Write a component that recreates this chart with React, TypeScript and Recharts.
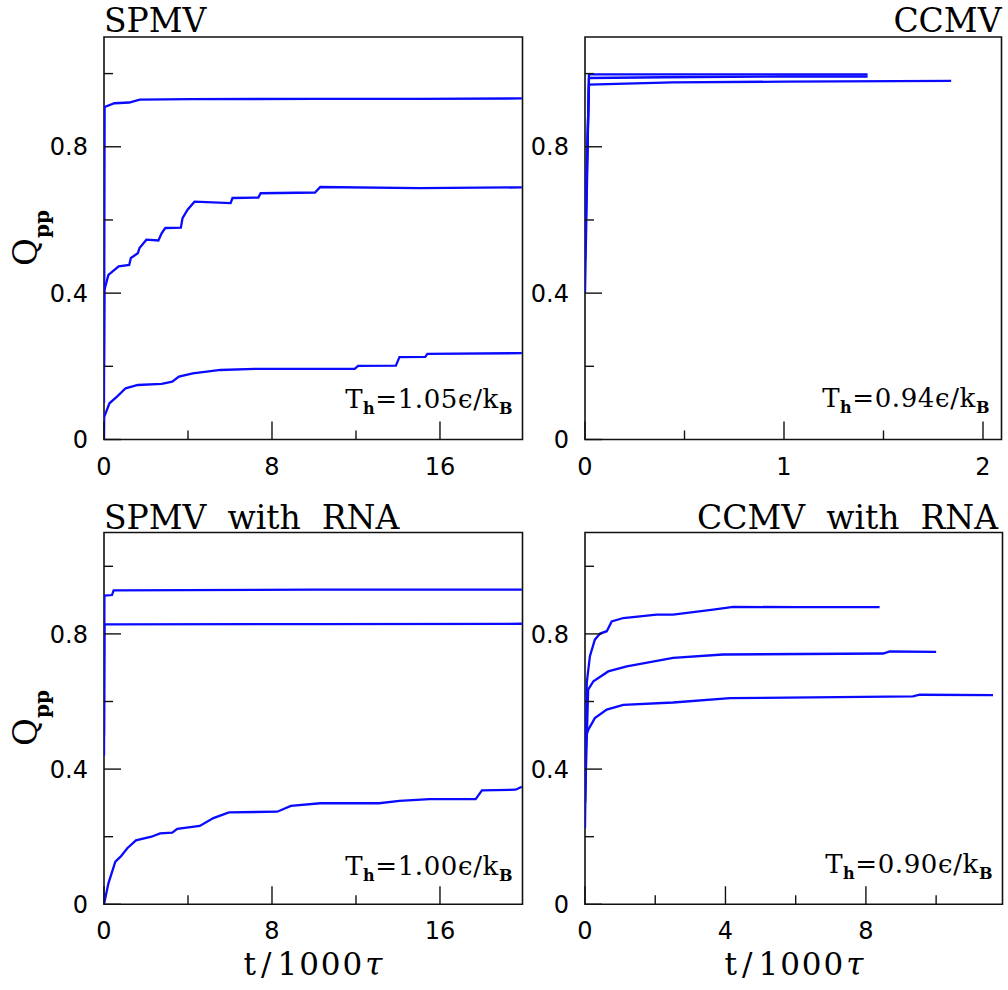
import React from 'react';
import { LineChart, Line, XAxis, YAxis, ReferenceArea } from 'recharts';

// ---------- DATA ----------
// Panel 1: SPMV (t in units of 1000 tau, Qpp)
const spmvTopT = [0, 0.03, 0.5, 1.2, 1.7, 4.1, 10, 15, 19.9];
const spmvTopV = [0.1, 0.909, 0.919, 0.921, 0.929, 0.93, 0.931, 0.931, 0.932];
const spmvMidT = [0, 0.02, 0.21, 0.7, 1.2, 1.28, 1.61, 1.69, 2.02, 2.59, 2.75, 2.92, 3.66, 3.74, 3.98, 4.31, 6.03, 6.12, 7.35, 7.46, 10.05, 10.3, 15, 19.9];
const spmvMidV = [0.2, 0.409, 0.45, 0.473, 0.477, 0.496, 0.509, 0.523, 0.546, 0.544, 0.564, 0.578, 0.579, 0.605, 0.628, 0.65, 0.646, 0.66, 0.661, 0.673, 0.675, 0.69, 0.687, 0.689];
const spmvLowT = [0, 0.01, 0.26, 0.62, 1.03, 1.61, 2.75, 3.25, 3.57, 4.23, 5.54, 7.18, 11.94, 12.1, 13.9, 14.07, 15.3, 15.4, 19.9];
const spmvLowV = [0, 0.062, 0.099, 0.117, 0.14, 0.149, 0.152, 0.158, 0.172, 0.181, 0.19, 0.193, 0.193, 0.201, 0.202, 0.225, 0.226, 0.234, 0.236];

// Panel 2: CCMV
const ccmvAT = [0, 0.02, 0.5, 1.0, 1.42];
const ccmvAV = [0.4, 0.998, 0.998, 0.998, 0.998];
const ccmvBT = [0, 0.02, 0.4, 1.0, 1.42];
const ccmvBV = [0.49, 0.988, 0.99, 0.992, 0.992];
const ccmvCT = [0, 0.02, 0.44, 1.0, 1.84];
const ccmvCV = [0.57, 0.97, 0.976, 0.978, 0.98];

// Panel 3: SPMV with RNA
const srnaTopT = [0, 0.02, 0.38, 0.46, 10, 19.9];
const srnaTopV = [0.44, 0.913, 0.915, 0.929, 0.931, 0.931];
const srnaMidT = [0, 0.02, 10, 19.9];
const srnaMidV = [0.5, 0.828, 0.829, 0.83];
const srnaLowT = [0, 0.21, 0.54, 0.79, 1.11, 1.52, 2.26, 2.67, 3.25, 3.49, 4.56, 5.21, 5.95, 8.25, 8.9, 10.3, 13.1, 14.07, 15.5, 17.7, 18.0, 19.6, 19.9];
const srnaLowV = [0, 0.062, 0.126, 0.141, 0.166, 0.189, 0.2, 0.21, 0.212, 0.223, 0.232, 0.255, 0.272, 0.274, 0.291, 0.299, 0.299, 0.306, 0.311, 0.311, 0.337, 0.339, 0.348];

// Panel 4: CCMV with RNA
const crnaTopT = [0, 0.05, 0.14, 0.28, 0.43, 0.62, 0.76, 1.09, 2.04, 2.51, 3.65, 4.22, 6, 8.39];
const crnaTopV = [0.3, 0.655, 0.734, 0.783, 0.801, 0.808, 0.837, 0.847, 0.857, 0.857, 0.872, 0.88, 0.879, 0.879];
const crnaMidT = [0, 0.09, 0.24, 0.66, 1.19, 2.51, 3.93, 8.49, 8.68, 10.0];
const crnaMidV = [0.3, 0.635, 0.66, 0.689, 0.704, 0.729, 0.739, 0.742, 0.748, 0.747];
const crnaLowT = [0, 0.03, 0.09, 0.28, 0.62, 1.09, 2.51, 4.13, 9.34, 9.53, 11.62];
const crnaLowV = [0.225, 0.497, 0.516, 0.551, 0.576, 0.59, 0.597, 0.61, 0.615, 0.62, 0.619];

// Ticks
const yTicks = [0, 0.2, 0.4, 0.6, 0.8, 1.0];
const yMajor = [0, 0.4, 0.8];
const yLabels = ['0', '0.4', '0.8'];
const xTicksLong = [0, 4, 8, 12, 16];
const xMajorLong = [0, 8, 16];
const xLabelsLong = ['0', '8', '16'];
const xTicksCcmv = [0, 0.5, 1, 1.5, 2];
const xMajorCcmv = [0, 1, 2];
const xLabelsCcmv = ['0', '1', '2'];
const xTicksCrna = [0, 2, 4, 6, 8, 10];
const xMajorCrna = [0, 4, 8];
const xLabelsCrna = ['0', '4', '8'];

const titles = ['SPMV', 'CCMV', 'SPMV  with  RNA', 'CCMV  with  RNA'];
const tempValues = ['1.05', '0.94', '1.00', '0.90'];

// ---------- helpers ----------
const zip = (t: number[], v: number[]) => t.map((x, i) => ({ t: x, v: v[i] }));
const BLUE = '#0a0aff';
const W = 1008;
const H = 990;

const findIdx = (arr: number[], v: number) => arr.findIndex((a) => Math.abs(a - v) < 1e-9);

const makeYTick = (majors: number[], labels: string[]) => (props: any) => {
  const { x, y, payload } = props;
  const i = findIdx(majors, payload.value);
  const len = i >= 0 ? 17 : 9;
  return (
    <g>
      <line x1={x} x2={x + len} y1={y} y2={y} stroke="#111" strokeWidth={1.4} />
      {i >= 0 && (
        <text x={x - 16} y={y} dy="0.36em" textAnchor="end" fontFamily="DejaVu Sans" fontSize={24} fill="#000">
          {labels[i]}
        </text>
      )}
    </g>
  );
};

const makeXTick = (majors: number[], labels: string[]) => (props: any) => {
  const { x, y, payload } = props;
  const i = findIdx(majors, payload.value);
  const len = i >= 0 ? 18 : 9;
  return (
    <g>
      <line x1={x} x2={x} y1={y} y2={y - len} stroke="#111" strokeWidth={1.4} />
      {i >= 0 && (
        <text x={x} y={y + 35} textAnchor="middle" fontFamily="DejaVu Sans" fontSize={24} fill="#000">
          {labels[i]}
        </text>
      )}
    </g>
  );
};

type Series = { t: number[]; v: number[] };

type PanelProps = {
  left: number;
  right: number;
  top: number;
  bottom: number;
  xMax: number;
  xTicks: number[];
  xMajor: number[];
  xLabels: string[];
  series: Series[];
};

const Panel = ({ left, right, top, bottom, xMax, xTicks, xMajor, xLabels, series }: PanelProps) => (
  <div style={{ position: 'absolute', left: 0, top: 0 }}>
    <LineChart
      width={W}
      height={H}
      margin={{ left: left - 1, top, right: W - right, bottom: H - bottom - 1 }}
    >
      <XAxis
        type="number"
        dataKey="t"
        domain={[0, xMax]}
        allowDataOverflow
        ticks={xTicks}
        interval={0}
        height={1}
        tickSize={0}
        tickMargin={0}
        axisLine={false}
        tickLine={false}
        tick={makeXTick(xMajor, xLabels)}
      />
      <YAxis
        type="number"
        dataKey="v"
        domain={[0, 1.1]}
        allowDataOverflow
        ticks={yTicks}
        interval={0}
        width={1}
        tickSize={0}
        tickMargin={0}
        axisLine={false}
        tickLine={false}
        tick={makeYTick(yMajor, yLabels)}
      />
      <ReferenceArea x1={0} x2={xMax} y1={0} y2={1.1} fill="none" stroke="#111" strokeWidth={1.6} />
      {series.map((s, i) => (
        <Line
          key={i}
          data={zip(s.t, s.v)}
          dataKey="v"
          type="linear"
          stroke={BLUE}
          strokeWidth={2.3}
          dot={false}
          isAnimationActive={false}
        />
      ))}
    </LineChart>
  </div>
);

const TempLabel = ({ x, y, val }: { x: number; y: number; val: string }) => (
  <text x={x} y={y} textAnchor="end" fontFamily="DejaVu Serif" fontSize={26} letterSpacing={0.6} fill="#000">
    T
    <tspan fontSize={16} fontWeight="bold" dy={6}>h</tspan>
    <tspan dy={-6}>{'=' + val + 'ϵ/k'}</tspan>
    <tspan fontSize={16} fontWeight="bold" dy={6}>B</tspan>
  </text>
);

const QLabel = ({ x, y }: { x: number; y: number }) => (
  <text transform={`translate(${x},${y}) rotate(-90)`} textAnchor="middle" fontFamily="DejaVu Serif" fontSize={34} fill="#000">
    Q
    <tspan fontSize={20} fontWeight="bold" dy={12}>pp</tspan>
  </text>
);

const TLabel = ({ x, y }: { x: number; y: number }) => (
  <text x={x} y={y} textAnchor="middle" fontFamily="DejaVu Serif" fontSize={31} letterSpacing={2} fill="#000">
    t<tspan dx={3}>/</tspan><tspan dx={4}>1000</tspan><tspan dx={1} fontStyle="italic">τ</tspan>
  </text>
);

export default function App() {
  return (
    <div style={{ position: 'absolute', left: 0, top: 0, width: W, height: H, background: '#fff', overflow: 'hidden' }}>
      <Panel
        left={104} right={522.5} top={37} bottom={439.5} xMax={19.93}
        xTicks={xTicksLong} xMajor={xMajorLong} xLabels={xLabelsLong}
        series={[
          { t: spmvTopT, v: spmvTopV },
          { t: spmvMidT, v: spmvMidV },
          { t: spmvLowT, v: spmvLowV },
        ]}
      />
      <Panel
        left={585} right={1001.5} top={37} bottom={439.5} xMax={2.093}
        xTicks={xTicksCcmv} xMajor={xMajorCcmv} xLabels={xLabelsCcmv}
        series={[
          { t: ccmvAT, v: ccmvAV },
          { t: ccmvBT, v: ccmvBV },
          { t: ccmvCT, v: ccmvCV },
        ]}
      />
      <Panel
        left={104} right={522.5} top={532.5} bottom={904.3} xMax={19.93}
        xTicks={xTicksLong} xMajor={xMajorLong} xLabels={xLabelsLong}
        series={[
          { t: srnaTopT, v: srnaTopV },
          { t: srnaMidT, v: srnaMidV },
          { t: srnaLowT, v: srnaLowV },
        ]}
      />
      <Panel
        left={585} right={1002.5} top={532.5} bottom={904.3} xMax={11.89}
        xTicks={xTicksCrna} xMajor={xMajorCrna} xLabels={xLabelsCrna}
        series={[
          { t: crnaTopT, v: crnaTopV },
          { t: crnaMidT, v: crnaMidV },
          { t: crnaLowT, v: crnaLowV },
        ]}
      />
      <svg width={W} height={H} style={{ position: 'absolute', left: 0, top: 0, pointerEvents: 'none' }}>
        <text x={104} y={31.5} fontFamily="DejaVu Serif" fontSize={33} fill="#000">{titles[0]}</text>
        <text x={1001.5} y={31.5} textAnchor="end" fontFamily="DejaVu Serif" fontSize={33} fill="#000">{titles[1]}</text>
        <text x={104} y={528.5} fontFamily="DejaVu Serif" fontSize={33} fill="#000" style={{ whiteSpace: 'pre' }}>{titles[2]}</text>
        <text x={998} y={528.5} textAnchor="end" fontFamily="DejaVu Serif" fontSize={33} fill="#000" style={{ whiteSpace: 'pre' }}>{titles[3]}</text>
        <TempLabel x={513} y={408} val={tempValues[0]} />
        <TempLabel x={990} y={407} val={tempValues[1]} />
        <TempLabel x={513} y={875} val={tempValues[2]} />
        <TempLabel x={993} y={873} val={tempValues[3]} />
        <QLabel x={37} y={238} />
        <QLabel x={37} y={718} />
        <TLabel x={314} y={975} />
        <TLabel x={795} y={975} />
      </svg>
    </div>
  );
}
